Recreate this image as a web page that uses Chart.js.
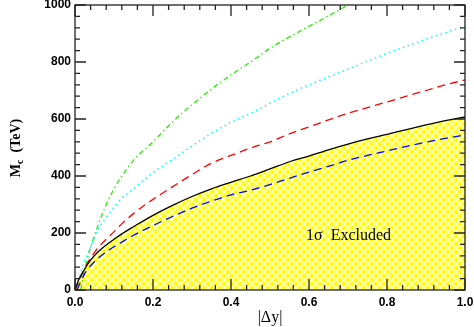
<!DOCTYPE html>
<html>
<head>
<meta charset="utf-8">
<script src="https://cdn.jsdelivr.net/npm/chart.js@4.4.0/dist/chart.umd.min.js"></script>
<style>
  html, body { margin: 0; padding: 0; background: #fff; }
</style>
</head>
<body>
<canvas id="limitChart" width="474" height="327"></canvas>
<script>
// |Δy| sample points shared by most curves
const deltaY = [0, 0.01, 0.02, 0.03, 0.04, 0.06, 0.08, 0.1, 0.12, 0.15, 0.2, 0.25, 0.3, 0.35, 0.4,
                0.45, 0.5, 0.55, 0.6, 0.65, 0.7, 0.75, 0.8, 0.85, 0.9, 0.95, 1.0];

// M_c limits (TeV)
const solidBlack = [0, 38, 62, 85, 105, 135, 158, 178, 197, 222, 262, 297, 328, 355, 378,
                    400, 425, 450, 470, 492, 512, 530, 546, 563, 579, 594, 607];
const dashedRed  = [0, 30, 62, 90, 112, 150, 178, 204, 232, 268, 318, 362, 405, 445, 472,
                    498, 520, 548, 572, 597, 620, 640, 660, 680, 700, 720, 737];
const dottedCyan = [0, 40, 85, 120, 150, 215, 255, 290, 322, 355, 412, 458, 505, 550, 588,
                    620, 655, 690, 720, 748, 775, 803, 830, 855, 880, 903, 925];

const blueX      = [0.005, 0.01, 0.02, 0.03, 0.04, 0.06, 0.08, 0.1, 0.12, 0.15, 0.2, 0.25, 0.3, 0.35, 0.4,
                    0.45, 0.5, 0.55, 0.6, 0.65, 0.7, 0.75, 0.8, 0.85, 0.9, 0.95, 1.0];
const dashedBlue = [0, 15, 45, 68, 85, 112, 133, 152, 168, 192, 226, 258, 287, 312, 334,
                    350, 370, 392, 414, 434, 455, 472, 488, 504, 519, 532, 544];

const greenX      = [0.015, 0.02, 0.03, 0.04, 0.06, 0.08, 0.1, 0.12, 0.15, 0.2, 0.25, 0.3, 0.35, 0.4,
                     0.45, 0.5, 0.55, 0.6, 0.65, 0.7];
const dashDotGreen = [0, 40, 100, 150, 230, 300, 355, 400, 455, 520, 590, 650, 705, 755,
                      800, 848, 888, 925, 962, 1000];

const xTicks = [0, 0.2, 0.4, 0.6, 0.8, 1.0];
const yTicks = [0, 200, 400, 600, 800, 1000];

function pts(xs, ys) {
    return xs.map((x, i) => ({ x: x, y: ys[i] }));
}

// yellow cross-hatch for the excluded region
function hatchPattern() {
    const n = 8;
    const c = document.createElement('canvas');
    c.width = n; c.height = n;
    const g = c.getContext('2d');
    g.fillStyle = '#ffff00';
    g.fillRect(0, 0, n, n);
    g.strokeStyle = '#ffffc4';
    g.lineWidth = 1.8;
    g.beginPath();
    g.moveTo(-1, -1); g.lineTo(n + 1, n + 1);
    g.moveTo(n + 1, -1); g.lineTo(-1, n + 1);
    g.stroke();
    return g.createPattern(c, 'repeat');
}

// frame, inward ticks on all four sides, titles and the label
const framePlugin = {
    id: 'frame',
    afterDraw(chart) {
        const ctx = chart.ctx;
        const a = chart.chartArea;
        const xs = chart.scales.x, ys = chart.scales.y;
        ctx.save();
        ctx.strokeStyle = '#222';
        ctx.lineWidth = 1.3;
        ctx.strokeRect(a.left, a.top, a.right - a.left, a.bottom - a.top);

        ctx.beginPath();
        for (let v = 0; v <= 1.0001; v += 0.04) {
            const px = xs.getPixelForValue(v);
            const major = Math.abs(v / 0.2 - Math.round(v / 0.2)) < 1e-6;
            const len = major ? 11 : 5;
            ctx.moveTo(px, a.bottom); ctx.lineTo(px, a.bottom - len);
            ctx.moveTo(px, a.top); ctx.lineTo(px, a.top + len);
        }
        for (let v = 0; v <= 1000; v += 40) {
            const py = ys.getPixelForValue(v);
            const len = v % 200 === 0 ? 11 : 5;
            ctx.moveTo(a.left, py); ctx.lineTo(a.left + len, py);
            ctx.moveTo(a.right, py); ctx.lineTo(a.right - len, py);
        }
        ctx.stroke();

        ctx.fillStyle = '#000';
        ctx.textBaseline = 'alphabetic';

        // x title
        ctx.font = '16px "Liberation Serif"';
        ctx.textAlign = 'center';
        ctx.fillText('|Δy|', 270, 322);

        // excluded label
        ctx.font = '16px "Liberation Serif"';
        ctx.textAlign = 'left';
        ctx.fillText('1σ  Excluded', 306, 240);

        // y title with subscript
        ctx.translate(20, 148);
        ctx.rotate(-Math.PI / 2);
        const big = 'bold 14px "Liberation Serif"', small = 'bold 10px "Liberation Serif"';
        const m = 'M', rest = '  (TeV)';
        ctx.font = big;
        const wM = ctx.measureText(m).width;
        const wR = ctx.measureText(rest).width;
        ctx.font = small;
        const wC = ctx.measureText('c').width;
        const x0 = -(wM + wC + wR) / 2;
        ctx.font = big;
        ctx.fillText(m, x0, 0);
        ctx.fillText(rest, x0 + wM + wC, 0);
        ctx.font = small;
        ctx.fillText('c', x0 + wM, 3);
        ctx.restore();
    }
};

const tickFont = { family: '"Liberation Sans"', size: 12, weight: 'bold' };

new Chart(document.getElementById('limitChart').getContext('2d'), {
    type: 'line',
    data: {
        datasets: [
            {
                data: pts(deltaY, solidBlack),
                borderColor: '#000',
                borderWidth: 1.3,
                backgroundColor: hatchPattern(),
                fill: 'origin'
            },
            {
                data: pts(blueX, dashedBlue),
                borderColor: '#0000ff',
                borderWidth: 1.3,
                borderDash: [8, 5],
                fill: false
            },
            {
                data: pts(deltaY, dashedRed),
                borderColor: '#ff0000',
                borderWidth: 1.3,
                borderDash: [8, 5],
                fill: false
            },
            {
                data: pts(deltaY, dottedCyan),
                borderColor: '#00ffff',
                borderWidth: 1.5,
                borderDash: [1.5, 3.5],
                fill: false
            },
            {
                data: pts(greenX, dashDotGreen),
                borderColor: '#22ee00',
                borderWidth: 1.3,
                borderDash: [5, 3, 1.5, 3],
                fill: false
            }
        ]
    },
    options: {
        responsive: false,
        animation: false,
        devicePixelRatio: 1,
        layout: { padding: { top: 5, right: 9, left: 0, bottom: 0 } },
        elements: {
            point: { radius: 0 },
            line: { cubicInterpolationMode: 'monotone' }
        },
        plugins: {
            legend: { display: false },
            tooltip: { enabled: false },
            filler: { drawTime: 'beforeDatasetsDraw' }
        },
        scales: {
            x: {
                type: 'linear',
                min: 0, max: 1,
                afterBuildTicks: s => { s.ticks = xTicks.map(v => ({ value: v })); },
                ticks: {
                    callback: v => v.toFixed(1),
                    font: tickFont, color: '#000', padding: 5, maxRotation: 0, autoSkip: false
                },
                grid: { display: false, drawTicks: false },
                border: { display: false },
                afterFit: s => {
                    s.height = 37;
                    s.paddingLeft = 0; s.paddingRight = 0; s.paddingTop = 0; s.paddingBottom = 0;
                }
            },
            y: {
                type: 'linear',
                min: 0, max: 1000,
                afterBuildTicks: s => { s.ticks = yTicks.map(v => ({ value: v })); },
                ticks: { callback: v => String(v), font: tickFont, color: '#000', padding: 4 },
                grid: { display: false, drawTicks: false },
                border: { display: false },
                afterFit: s => {
                    s.width = 75;
                    s.paddingLeft = 0; s.paddingRight = 0; s.paddingTop = 0; s.paddingBottom = 0;
                }
            }
        }
    },
    plugins: [framePlugin]
});
</script>
</body>
</html>
